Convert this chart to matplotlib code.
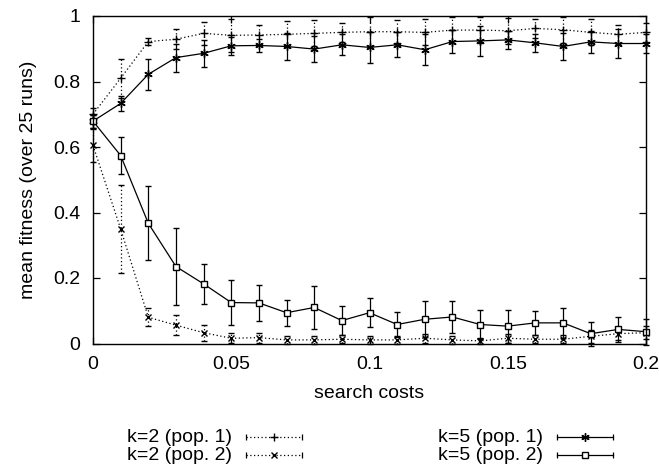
import matplotlib.pyplot as plt
import numpy as np

plt.rcParams["font.family"] = ["Liberation Sans", "DejaVu Sans"]

# search costs 0 .. 0.2 in steps of 0.01
costs = [0.00, 0.01, 0.02, 0.03, 0.04, 0.05, 0.06, 0.07, 0.08, 0.09, 0.10,
         0.11, 0.12, 0.13, 0.14, 0.15, 0.16, 0.17, 0.18, 0.19, 0.20]

k2_pop1 = [0.70, 0.81, 0.922, 0.929, 0.947, 0.941, 0.942, 0.944, 0.947, 0.950, 0.952,
           0.952, 0.950, 0.957, 0.957, 0.955, 0.962, 0.958, 0.950, 0.944, 0.950]
k2_pop1_err = [0.02, 0.06, 0.012, 0.03, 0.035, 0.05, 0.03, 0.04, 0.04, 0.03, 0.045,
               0.035, 0.04, 0.04, 0.04, 0.04, 0.03, 0.04, 0.04, 0.03, 0.03]

k2_pop2 = [0.605, 0.35, 0.08, 0.056, 0.033, 0.016, 0.018, 0.011, 0.011, 0.013, 0.011,
           0.011, 0.016, 0.011, 0.008, 0.016, 0.013, 0.013, 0.022, 0.030, 0.033]
k2_pop2_err = [0.05, 0.135, 0.028, 0.03, 0.025, 0.015, 0.015, 0.012, 0.012, 0.012, 0.012,
               0.012, 0.014, 0.012, 0.01, 0.014, 0.012, 0.012, 0.02, 0.02, 0.02]

k5_pop1 = [0.679, 0.733, 0.822, 0.873, 0.886, 0.909, 0.910, 0.907, 0.899, 0.912, 0.904,
           0.912, 0.897, 0.922, 0.924, 0.927, 0.918, 0.907, 0.921, 0.916, 0.916]
k5_pop1_err = [0.02, 0.024, 0.048, 0.043, 0.042, 0.028, 0.021, 0.04, 0.04, 0.032, 0.046,
               0.038, 0.048, 0.036, 0.045, 0.028, 0.028, 0.042, 0.033, 0.043, 0.03]

k5_pop2 = [0.679, 0.574, 0.367, 0.235, 0.182, 0.125, 0.124, 0.094, 0.110, 0.070, 0.094,
           0.058, 0.074, 0.081, 0.058, 0.053, 0.063, 0.063, 0.030, 0.043, 0.036]
k5_pop2_err = [0.02, 0.056, 0.113, 0.118, 0.062, 0.068, 0.054, 0.04, 0.066, 0.044, 0.045,
               0.037, 0.055, 0.05, 0.045, 0.05, 0.036, 0.045, 0.037, 0.038, 0.04]

W, H = 659, 472
FS = 14
fig = plt.figure(figsize=(W / 100, H / 100), dpi=100)
ax = fig.add_axes([93 / W, 1 - 343.5 / H, (646 - 93) / W, (343.5 - 16) / H])

dotted = (0, (1, 2))
common = dict(color="black", lw=0.9, capsize=2.5, elinewidth=0.9, capthick=0.9,
              mew=1.0, clip_on=False)

e = ax.errorbar(costs, k2_pop1, yerr=k2_pop1_err, ls=dotted, marker="+", ms=6, **common)
e[-1][0].set_linestyle(dotted)
e = ax.errorbar(costs, k2_pop2, yerr=k2_pop2_err, ls=dotted, marker="x", ms=5, **common)
e[-1][0].set_linestyle(dotted)
ax.errorbar(costs, k5_pop1, yerr=k5_pop1_err, ls="-", marker=(6, 2, 0), ms=6, **common)
ax.errorbar(costs, k5_pop2, yerr=k5_pop2_err, ls="-", marker="s", mfc="white", ms=5,
            **common)

ax.set_xlim(0, 0.2)
ax.set_ylim(0, 1)
ax.set_xticks([0, 0.05, 0.1, 0.15, 0.2])
ax.set_xticklabels(["0", "0.05", "0.1", "0.15", "0.2"])
ax.set_yticks([0, 0.2, 0.4, 0.6, 0.8, 1])
ax.set_yticklabels(["0", "0.2", "0.4", "0.6", "0.8", "1"])
ax.tick_params(direction="in", top=True, right=True, length=5, width=0.9,
               labelsize=FS, pad=9)
for s in ax.spines.values():
    s.set_linewidth(1.0)
ax.set_xlabel("search costs", fontsize=FS, labelpad=9)
ax.set_ylabel("mean fitness (over 25 runs)", fontsize=FS, labelpad=12)

# legend drawn below the plot, gnuplot style: text then sample with end caps
lg = fig.add_axes([0, 0, 1, 1])
lg.set_xlim(0, W)
lg.set_ylim(H, 0)
lg.axis("off")
entries = [
    ("k=2 (pop. 1)", 232, 246, 302, 437, dotted, "+", "black", 6),
    ("k=2 (pop. 2)", 232, 246, 302, 455, dotted, "x", "black", 5),
    ("k=5 (pop. 1)", 543, 557, 613, 437, "-", (6, 2, 0), "black", 6),
    ("k=5 (pop. 2)", 543, 557, 613, 455, "-", "s", "white", 5),
]
for label, tx, x0, x1, y, ls, mk, mfc, ms in entries:
    lg.text(tx, y, label, ha="right", va="center", fontsize=FS)
    lg.plot([x0, x1], [y, y], ls=ls, color="black", lw=0.9)
    lg.plot([x0, x1], [y, y], ls="none", marker="|", ms=5, color="black", mew=0.9)
    lg.plot([(x0 + x1) / 2], [y], ls="none", marker=mk, ms=ms, mfc=mfc,
            color="black", mew=1.0)

fig.savefig("out.png", dpi=100)
